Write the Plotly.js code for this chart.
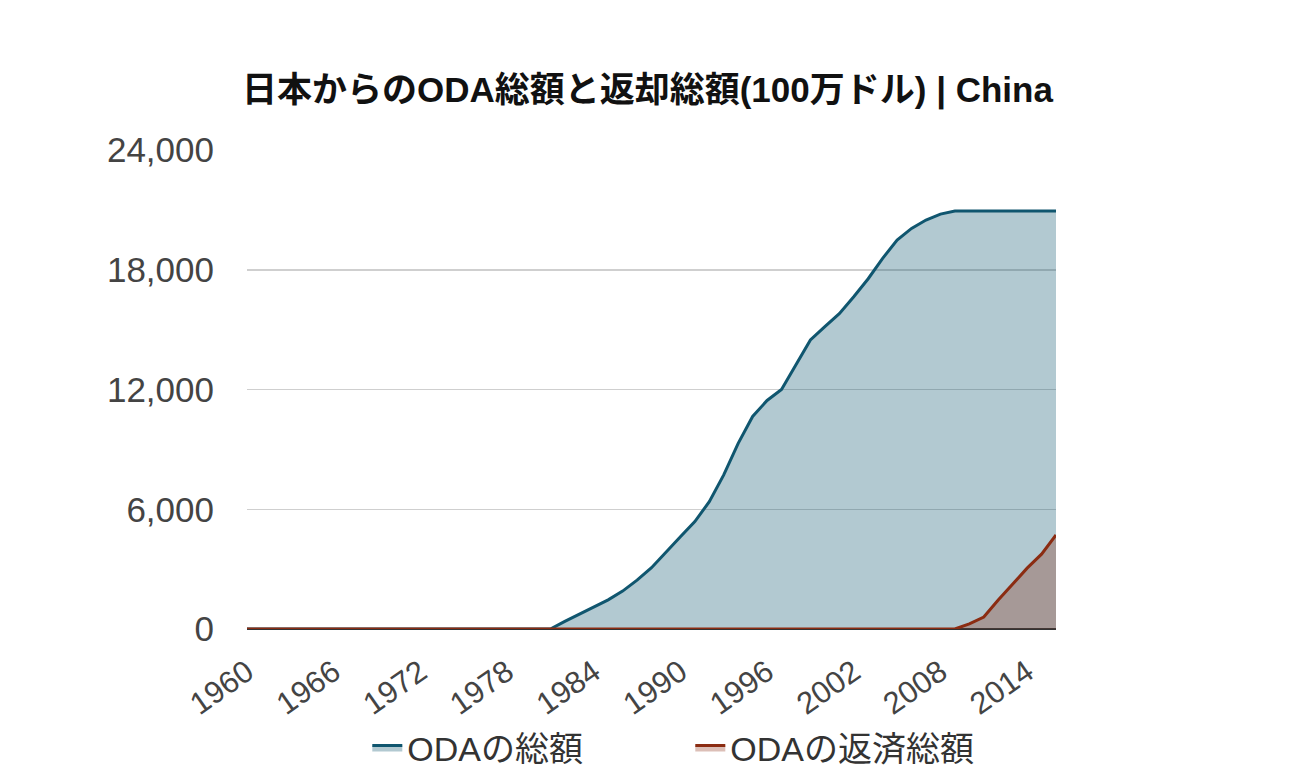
<!DOCTYPE html>
<html>
<head>
<meta charset="utf-8">
<script src="https://cdn.plot.ly/plotly-3.0.1.min.js"></script>
<style>html,body{margin:0;padding:0;background:#fff;}#chart{width:1300px;height:780px;}</style>
</head>
<body>
<div id="chart"></div>
<script>
const years = [];
for (let y = 1960; y <= 2016; y++) years.push(y);

const odaTotal = [
  0,0,0,0,0,0,0,0,0,0,
  0,0,0,0,0,0,0,0,0,0,
  0,0,
  380,750,1120,1460,1900,2450,3070,3870,
  4620,5380,6380,7720,9300,10650,11450,12000,13250,14480,
  15150,15800,16650,17550,18570,19490,20070,20490,20790,20940,
  20940,20940,20940,20940,20940,20940,20940
];
const odaRepaid = [
  0,0,0,0,0,0,0,0,0,0,
  0,0,0,0,0,0,0,0,0,0,
  0,0,0,0,0,0,0,0,0,0,
  0,0,0,0,0,0,0,0,0,0,
  0,0,0,0,0,0,0,0,0,0,
  260,600,1450,2250,3050,3750,4710
];
const seriesNames = ['ODAの総額', 'ODAの返済総額'];
const titleText = '日本からのODA総額と返却総額(100万ドル) | China';
const yTicks = [0, 6000, 12000, 18000, 24000];
const xTicks = [1960, 1966, 1972, 1978, 1984, 1990, 1996, 2002, 2008, 2014];

const FONT = '"Liberation Sans", Arial, "Noto Sans CJK JP", sans-serif';

const traces = [
  {
    x: years, y: odaTotal, name: seriesNames[0], type: 'scatter', mode: 'lines',
    fill: 'tozeroy', fillcolor: 'rgba(16,86,111,0.32)',
    line: {color: '#10566f', width: 3}
  },
  {
    x: years, y: odaRepaid, name: seriesNames[1], type: 'scatter', mode: 'lines',
    fill: 'tozeroy', fillcolor: 'rgba(139,44,18,0.3)',
    line: {color: '#8b2c12', width: 3}
  }
];

const layout = {
  width: 1300, height: 780,
  paper_bgcolor: '#fff', plot_bgcolor: '#fff',
  margin: {l: 247, r: 244, t: 150, b: 151, pad: 0, autoexpand: false},
  font: {family: FONT, color: '#444'},
  title: {
    text: '<b>' + titleText + '</b>',
    font: {family: FONT, size: 35, color: '#111'},
    xref: 'container', x: 0.498, xanchor: 'center',
    yref: 'container', y: 1 - 90/780, yanchor: 'middle'
  },
  xaxis: {
    range: [1960, 2016],
    tickvals: xTicks, ticktext: xTicks.map(String),
    tickangle: -35,
    tickfont: {family: FONT, size: 31, color: '#444'},
    showgrid: false, zeroline: false, showline: false,
    ticks: '', ticklabelstandoff: 18, automargin: false
  },
  yaxis: {
    range: [0, 24000],
    tickvals: yTicks, ticktext: yTicks.map(v => v.toLocaleString('en-US')),
    tickfont: {family: FONT, size: 35, color: '#444'},
    showgrid: true, gridcolor: '#cfcfcf', gridwidth: 1.5,
    zeroline: true, zerolinecolor: '#333', zerolinewidth: 2,
    showline: false, ticks: '', ticklabelstandoff: 32, automargin: false
  },
  showlegend: true,
  legend: {
    orientation: 'h', x: 0.531, xanchor: 'center', xref: 'container',
    y: 1 - 748/780, yanchor: 'middle', yref: 'container',
    font: {family: FONT, size: 34, color: '#333'},
    entrywidth: 278, entrywidthmode: 'pixels',
    bgcolor: 'rgba(0,0,0,0)'
  },
  hovermode: false
};

Plotly.newPlot('chart', traces, layout, {staticPlot: true, displayModeBar: false});
</script>
</body>
</html>
